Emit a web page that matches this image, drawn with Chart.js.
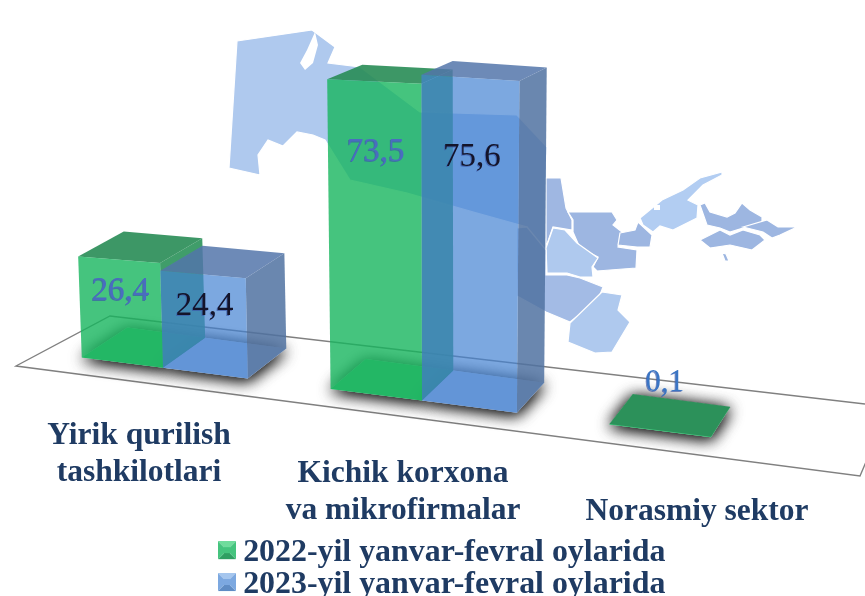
<!DOCTYPE html>
<html>
<head>
<meta charset="utf-8">
<style>
    html, body { margin: 0; padding: 0; background: #fff; overflow: hidden; }
    #wrap { width: 865px; height: 596px; overflow: hidden; }
</style>
<script src="https://cdn.jsdelivr.net/npm/chart.js@4/dist/chart.umd.js"></script>
</head>
<body>
<div id="wrap"><canvas id="chart" width="865" height="611"></canvas></div>
<script>
var categories = [['Yirik qurilish', 'tashkilotlari'], ['Kichik korxona', 'va mikrofirmalar'], ['Norasmiy sektor']];
var seriesNames = ['2022-yil yanvar-fevral oylarida', '2023-yil yanvar-fevral oylarida'];
var values2022 = [26.4, 73.5, 0.1];
var values2023 = [24.4, 75.6, null];

var serif = '"Liberation Serif", "Times New Roman", serif';
var textColor = '#1f3b63';

// front, side, top and floor colours of each box (they are see-through, the map shows behind)
var faces = [
    { front: 'rgba(22,181,94,0.8)', side: 'rgba(30,140,80,0.85)', top: 'rgba(40,140,85,0.9)', floor: 'rgba(30,165,90,0.75)', label: '#4a6cc0', tallDrop: 71 },
    { front: 'rgba(68,131,211,0.7)', side: 'rgba(80,114,161,0.85)', top: 'rgba(84,118,170,0.85)', floor: 'rgba(70,115,185,0.45)', label: '#14142a', tallDrop: 80 }
];

// background map, only decoration
var mapShapes = [
    { fill: '#afc9ee', pts: [[237,41],[312,30],[335,47],[328,63],[360,67],[420,112],[517,115],[547,147],[546,178],[546,270],[527,227],[477,213],[407,193],[350,180],[325,140],[313,135],[297,132],[283,146],[268,140],[258,155],[260,175],[229,168]] },
    { fill: '#ffffff', pts: [[315,32],[318,45],[313,63],[305,70],[300,63],[307,50]] },
    { fill: '#9fb7e2', pts: [[546,178],[561,178],[566,208],[572,220],[572,230],[553,227],[546,247]] },
    { fill: '#9db6e1', pts: [[568,212],[612,212],[617,220],[613,225],[622,232],[618,247],[637,250],[636,268],[597,271],[593,267],[598,257],[580,248],[573,232],[573,220]] },
    { fill: '#9db6e1', pts: [[620,233],[635,230],[638,222],[652,235],[650,247],[637,247],[618,245]] },
    { fill: '#b2cdf2', pts: [[640,218],[662,200],[683,190],[700,178],[722,172],[722,175],[703,185],[688,200],[698,205],[697,218],[673,230],[660,226],[653,232],[643,225]] },
    { fill: '#ffffff', pts: [[654,205],[660,205],[660,210],[654,210]] },
    { fill: '#9db6e1', pts: [[700,205],[705,203],[710,212],[727,217],[735,213],[742,203],[750,210],[762,217],[762,223],[743,228],[730,232],[720,228],[707,225]] },
    { fill: '#9db6e1', pts: [[743,227],[767,220],[778,227],[797,227],[780,235],[772,238],[763,232]] },
    { fill: '#9db6e1', pts: [[700,240],[720,230],[730,235],[743,230],[760,235],[765,240],[752,250],[730,245],[710,248]] },
    { fill: '#9db6e1', pts: [[722,253],[726,254],[729,261],[725,261]] },
    { fill: '#afc9ee', pts: [[553,228],[565,230],[577,243],[598,258],[592,267],[593,277],[580,277],[567,273],[547,273],[546,248]] },
    { fill: '#a3bbe5', pts: [[517,228],[527,227],[546,250],[546,275],[567,275],[580,278],[603,287],[598,300],[570,322],[546,312],[517,296]] },
    { fill: '#afc9ee', pts: [[602,292],[622,295],[618,310],[630,322],[612,352],[595,353],[568,342],[570,323]] }
];

function quad(ctx, pts, color) {
    ctx.beginPath();
    pts.forEach(function (p, i) {
        if (i === 0) ctx.moveTo(p[0], p[1]); else ctx.lineTo(p[0], p[1]);
    });
    ctx.closePath();
    ctx.fillStyle = color;
    ctx.fill();
}

// u = position in category steps, v = value, d = 0 front / 1 back of the box
function project(u, v, d) {
    var sx = 163 + 244 * u + 15 * u * u;
    var g = 3.65 + 0.0022 * sx - 0.0000015 * sx * sx;
    var h = v * g;
    return [
        sx + (sx - 440) * h * 0.0001 + d * (49 - 0.042 * sx),
        347 + 0.127 * sx - h - d * (30 - 0.05 * h)
    ];
}

var boxes3d = {
    id: 'boxes3d',
    beforeDraw: function (chart) {
        var ctx = chart.ctx;
        ctx.save();
        mapShapes.forEach(function (s) {
            quad(ctx, s.pts, s.fill);
            if (s.fill !== '#ffffff') {
                ctx.strokeStyle = '#ffffff';
                ctx.lineWidth = 1.2;
                ctx.stroke();
            }
        });
        // floor outline
        ctx.strokeStyle = '#808080';
        ctx.lineWidth = 1.4;
        ctx.beginPath();
        ctx.moveTo(865, 404);
        ctx.lineTo(110, 316);
        ctx.lineTo(16, 366);
        ctx.lineTo(860, 476);
        ctx.lineTo(866, 462);
        ctx.stroke();
        ctx.restore();
    },
    beforeDatasetsDraw: function (chart) {
        var ctx = chart.ctx;
        var xs = chart.scales.x;
        var ys = chart.scales.y;
        var step = xs.getPixelForValue(1) - xs.getPixelForValue(0);
        var x0 = xs.getPixelForValue(0);
        var bars = [];

        categories.forEach(function (c, i) {
            chart.data.datasets.forEach(function (ds, di) {
                var el = chart.getDatasetMeta(di).data[i];
                if (ds.data[i] === null) return;
                bars.push({
                    u0: (el.x - el.width / 2 - x0) / step,
                    u1: (el.x + el.width / 2 - x0) / step,
                    v: ys.getValueForPixel(el.y),
                    face: faces[di],
                    text: String(ds.data[i]).replace('.', ',')
                });
            });
        });

        ctx.save();
        // soft shadow under the boxes
        bars.forEach(function (b) {
            ctx.save();
            ctx.shadowColor = 'rgba(0,0,0,0.8)';
            ctx.shadowBlur = 16;
            ctx.shadowOffsetY = 2;
            var foot = [project(b.u0, 0, 0), project(b.u1, 0, 0), project(b.u1, 0, 1), project(b.u0, 0, 1)];
            quad(ctx, foot, '#ffffff');
            quad(ctx, foot, '#ffffff');
            ctx.restore();
        });
        bars.forEach(function (b) {
            var f = b.face;
            quad(ctx, [project(b.u0, 0, 0), project(b.u1, 0, 0), project(b.u1, 0, 1), project(b.u0, 0, 1)], f.floor);
            quad(ctx, [project(b.u1, 0, 0), project(b.u1, b.v, 0), project(b.u1, b.v, 1), project(b.u1, 0, 1)], f.side);
            quad(ctx, [project(b.u0, b.v, 0), project(b.u1, b.v, 0), project(b.u1, b.v, 1), project(b.u0, b.v, 1)], f.top);
            quad(ctx, [project(b.u0, 0, 0), project(b.u1, 0, 0), project(b.u1, b.v, 0), project(b.u0, b.v, 0)], f.front);
        });

        // value labels
        ctx.textAlign = 'center';
        ctx.textBaseline = 'middle';
        bars.forEach(function (b) {
            var mid = project((b.u0 + b.u1) / 2, b.v, 0);
            var small = b.v < 1;
            var drop = small ? -47 : (b.v < 50 ? 32 : b.face.tallDrop);
            var nudge = small ? 5 : 2;
            ctx.font = (small ? 31 : 33) + 'px ' + serif;
            ctx.fillStyle = 'rgba(60,90,170,0.7)';
            ctx.fillText(b.text, mid[0] + nudge - 1, mid[1] + drop + 1);
            ctx.fillStyle = small ? '#3a75c4' : b.face.label;
            ctx.fillText(b.text, mid[0] + nudge, mid[1] + drop);
        });

        // category labels step down along the floor
        ctx.font = 'bold 31.5px ' + serif;
        ctx.fillStyle = textColor;
        categories.forEach(function (lines, i) {
            var p = project(i, 0, 0);
            lines.forEach(function (line, n) {
                ctx.fillText(line, p[0] - 24 + 5 * i, 435.5 + 38 * i + 37 * n);
            });
        });
        ctx.restore();
        return false;
    }
};

// icon is taller than its drawing so the legend centres it a little above the text middle
function legendIcon(light, dark, mid) {
    var c = document.createElement('canvas');
    c.width = 18;
    c.height = 24;
    var g = c.getContext('2d');
    quad(g, [[0,0],[18,0],[9,9]], light);
    quad(g, [[0,18],[18,18],[9,9]], dark);
    quad(g, [[0,0],[0,18],[9,9]], mid);
    quad(g, [[18,0],[18,18],[9,9]], mid);
    quad(g, [[6,6],[12,6],[12,12],[6,12]], mid);
    return c;
}

var icons = [legendIcon('#6fdc9c', '#2f9f62', '#45c47e'), legendIcon('#a5c6ee', '#5f8cc4', '#7ca8e0')];

new Chart(document.getElementById('chart'), {
    type: 'bar',
    plugins: [boxes3d],
    data: {
        labels: categories,
        datasets: [
            { label: seriesNames[0], data: values2022, backgroundColor: faces[0].front },
            { label: seriesNames[1], data: values2023, backgroundColor: faces[1].front }
        ]
    },
    options: {
        responsive: false,
        animation: false,
        layout: { padding: { left: 27, bottom: 0 } },
        barPercentage: 1,
        categoryPercentage: 0.68,
        scales: {
            x: { display: false },
            y: { display: false, min: 0, max: 80 }
        },
        plugins: {
            tooltip: { enabled: false },
            legend: {
                position: 'bottom',
                labels: {
                    usePointStyle: true,
                    pointStyleWidth: 0.5,
                    boxHeight: 18,
                    padding: 0,
                    color: textColor,
                    font: { family: serif, size: 31.9, weight: 'bold', lineHeight: 1 },
                    generateLabels: function (chart) {
                        return chart.data.datasets.map(function (ds, i) {
                            return { text: ds.label, datasetIndex: i, pointStyle: icons[i], fontColor: textColor, lineWidth: 0 };
                        });
                    }
                }
            }
        }
    }
});
</script>
</body>
</html>
